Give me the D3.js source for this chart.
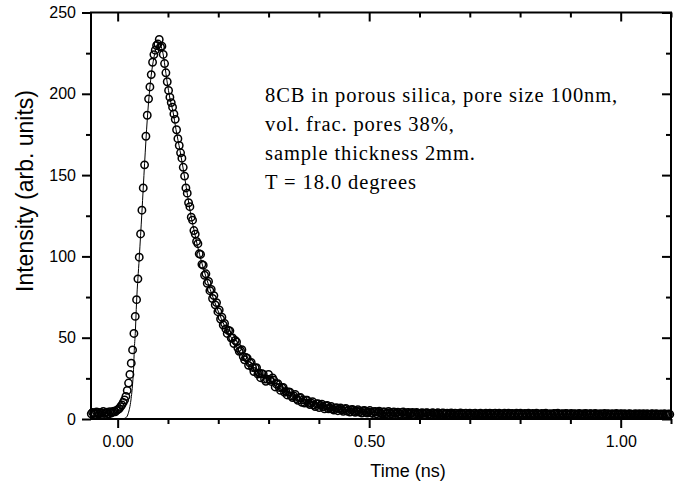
<!DOCTYPE html>
<html>
<head>
<meta charset="utf-8">
<script src="https://cdn.jsdelivr.net/npm/d3@7"></script>
<style>
body { margin: 0; background: #fff; }
svg { display: block; }
.axis line { stroke: #000; stroke-width: 2; }
.axis path { display: none; }
.axis text { font-family: "Liberation Sans", Arial, sans-serif; font-size: 16px; fill: #000; }
</style>
</head>
<body>
<svg width="681" height="489"></svg>
<script>
// time channels of the decay histogram
var startTime = -0.0525;    // ns, first channel
var channelWidth = 0.00265; // ns per channel

// measured intensity, one value per channel (arb. units)
var intensity = [
 3.2, 4.1, 3.6, 2.9, 4.4, 3.8, 3.1, 4.0, 3.5, 4.6,
 3.3, 3.9, 4.2, 3.0, 4.5, 3.7, 4.3, 4.8, 4.4, 5.3,
 5.8, 6.4, 7.6, 8.7, 10.2, 11.7, 13.9, 17.6, 22.1, 27.4,
 34.3, 42.5, 52.6, 63.1, 73.4, 86.2, 99.5, 113.8, 128.4, 142.1,
 156.3, 173.9, 186.8, 196.9, 204.2, 211.8, 219.4, 224.1, 226.8, 229.7,
 230.6, 233.4, 228.7, 229.3, 224.2, 218.6, 212.9, 207.4, 202.1, 197.9,
 194.6, 191.8, 187.6, 184.3, 177.9, 172.4, 168.2, 163.7, 160.4, 154.8,
 149.4, 142.1, 138.9, 133.0, 130.6, 124.1, 122.3, 115.9, 113.7, 109.2,
 107.8, 101.6, 101.2, 95.1, 94.6, 88.4, 89.3, 83.5, 84.6, 78.9,
 79.7, 74.1, 75.9, 70.2, 71.6, 66.0, 67.1, 61.5, 62.6, 57.8,
 58.8, 55.4, 52.6, 54.4, 54.2, 49.8, 49.9, 46.4, 48.3, 47.4,
 43.7, 41.6, 42.1, 42.6, 38.4, 36.4, 37.9, 37.4, 33.0, 34.4,
 34.8, 31.7, 29.2, 31.4, 31.6, 27.6, 28.3, 25.4, 27.9, 27.6,
 24.6, 23.2, 24.5, 27.4, 24.1, 23.1, 25.3, 23.8, 19.7, 21.4,
 21.7, 19.4, 17.6, 19.3, 19.4, 16.4, 17.0, 14.8, 16.7, 16.5,
 14.2, 13.2, 14.2, 15.1, 12.5, 11.5, 13.0, 13.2, 10.3, 11.7,
 9.8, 11.6, 11.5, 9.7, 8.9, 9.8, 10.7, 8.6, 7.7, 9.2,
 9.4, 7.0, 8.4, 9.1, 7.5, 6.2, 8.0, 8.4, 6.2, 6.9,
 7.7, 6.1, 5.5, 6.7, 6.9, 5.1, 6.2, 6.8, 5.6, 4.7,
 6.1, 6.5, 4.8, 5.4, 4.2, 5.7, 5.8, 4.6, 4.1, 4.9,
 5.7, 4.2, 4.7, 3.7, 5.1, 5.2, 4.1, 3.7, 4.4, 5.2,
 3.8, 3.4, 4.5, 4.7, 3.2, 4.2, 4.8, 3.7, 3.0, 4.3,
 4.4, 3.2, 3.5, 4.6, 3.9, 3.0, 4.1, 4.3, 3.3, 3.6,
 4.2, 3.1, 2.9, 4.0, 4.3, 3.4, 3.0, 3.9, 4.1, 3.2,
 3.5, 4.0, 2.8, 3.3, 4.1, 3.6, 2.9, 3.2, 3.9, 3.5,
 2.8, 3.7, 3.9, 3.0, 3.3, 2.7, 3.8, 3.5, 2.9, 3.4,
 3.8, 3.1, 2.6, 3.5, 3.7, 2.9, 3.2, 3.6, 2.7, 3.3,
 3.7, 3.0, 2.8, 3.6, 3.4, 2.6, 3.1, 3.7, 3.2, 2.8,
 3.4, 3.6, 2.7, 3.0, 3.5, 2.9, 2.6, 3.4, 3.6, 3.0,
 2.7, 3.3, 3.6, 3.1, 2.6, 3.2, 3.5, 2.8, 3.0, 3.6,
 3.2, 2.7, 3.4, 3.5, 2.8, 2.9, 3.6, 3.1, 2.6, 3.3,
 3.5, 2.9, 3.0, 3.6, 2.7, 3.2, 3.4, 2.6, 3.1, 3.5,
 2.8, 3.3, 3.5, 2.9, 2.6, 3.4, 3.2, 2.7, 3.5, 3.0,
 2.7, 3.4, 3.1, 2.6, 3.5, 3.3, 2.8, 3.0, 3.4, 2.6,
 3.2, 3.5, 2.9, 2.7, 3.3, 3.0, 2.6, 3.4, 3.2, 2.8,
 3.5, 2.9, 2.7, 3.3, 3.1, 2.6, 3.4, 3.2, 2.7, 3.0,
 3.4, 2.8, 3.1, 3.3, 2.6, 2.9, 3.4, 3.0, 2.7, 3.2,
 2.8, 3.4, 3.0, 2.6, 3.2, 3.3, 2.7, 2.9, 3.4, 2.8,
 3.1, 2.6, 3.3, 3.0, 2.8, 3.4, 2.7, 3.1, 3.2, 2.6,
 3.0, 3.3, 2.7, 2.9, 3.4, 2.8, 2.6, 3.2, 3.1, 2.7,
 3.3, 2.9, 2.6, 3.1, 3.3, 2.8, 3.0, 2.6, 3.2, 3.0,
 2.7, 3.3, 2.9, 2.6, 3.2, 3.0, 2.7, 3.3, 2.8, 2.6,
 3.1, 3.2, 2.7, 2.9, 3.3, 2.6, 2.8, 3.1, 3.0, 2.6,
 3.2, 2.8, 2.7, 3.1, 2.9
];

// fitted curve
var fitTime = [
 -0.053, 0.000, 0.0085, 0.0165, 0.0211, 0.0264, 0.0298, 0.0318, 0.0330, 0.0350,
 0.0376, 0.0429, 0.0482, 0.0535, 0.0588, 0.0641, 0.0694, 0.0747, 0.0800, 0.0827,
 0.0853, 0.0900, 0.0940, 0.0980, 0.1040, 0.1100, 0.1160, 0.1240, 0.1340, 0.1440,
 0.1540, 0.1630, 0.1750, 0.1870, 0.1990, 0.2130, 0.2270, 0.2430, 0.2630, 0.2870,
 0.3130, 0.3420, 0.3720, 0.4020, 0.4420, 0.4820, 0.5410, 0.6200, 0.7200, 0.8600,
 1.0000, 1.1000
];
var fitIntensity = [
 0, 0, 0, 0.8, 3.5, 11.7, 22, 32, 42, 52.7,
 72, 99, 127, 157, 184, 204, 217.5, 226, 231, 231.5,
 230, 225, 217, 208, 197, 189, 178, 165, 147, 128,
 113, 101, 88, 77, 67, 57, 49.5, 41, 33, 26.5,
 21, 15.5, 11.5, 8.5, 6, 4.6, 3.2, 2.2, 1.6, 1.1,
 0.8, 0.6
];

var xMajorTicks = [0, 0.5, 1.0];
var xMinorTicks = [0.1, 0.2, 0.3, 0.4, 0.6, 0.7, 0.8, 0.9, 1.1];
var yMajorTicks = [0, 50, 100, 150, 200, 250];
var yMinorTicks = [25, 75, 125, 175, 225];

var noteLines = [
 "8CB in porous silica, pore size 100nm,",
 "vol. frac. pores 38%,",
 "sample thickness 2mm.",
 "T = 18.0 degrees"
];

var svg = d3.select("svg");
var plotLeft = 91, plotRight = 671, plotTop = 12.5, plotBottom = 419;

var x = d3.scaleLinear().domain([-0.053, 1.1]).range([plotLeft, plotRight]);
var y = d3.scaleLinear().domain([0, 250]).range([plotBottom, plotTop]);

function addAxis(axis, tx, ty) {
	svg.append("g")
	  .attr("class", "axis")
	  .attr("transform", "translate(" + tx + "," + ty + ")")
	  .call(axis);
}

// bottom: labels + outward ticks
addAxis(d3.axisBottom(x).tickValues(xMajorTicks).tickFormat(d3.format(".2f"))
	.tickSize(9).tickSizeOuter(0).tickPadding(8), 0, plotBottom);
addAxis(d3.axisBottom(x).tickValues(xMinorTicks).tickFormat("")
	.tickSize(5).tickSizeOuter(0), 0, plotBottom);
// top: inward ticks
addAxis(d3.axisTop(x).tickValues(xMajorTicks).tickFormat("").tickSize(-9).tickSizeOuter(0), 0, plotTop);
addAxis(d3.axisTop(x).tickValues(xMinorTicks).tickFormat("").tickSize(-5).tickSizeOuter(0), 0, plotTop);
// left
addAxis(d3.axisLeft(y).tickValues(yMajorTicks).tickFormat(d3.format("d"))
	.tickSize(9).tickSizeOuter(0).tickPadding(6), plotLeft, 0);
addAxis(d3.axisLeft(y).tickValues(yMinorTicks).tickFormat("").tickSize(5).tickSizeOuter(0), plotLeft, 0);
// right: inward ticks
addAxis(d3.axisRight(y).tickValues(yMajorTicks).tickFormat("").tickSize(-9).tickSizeOuter(0), plotRight, 0);
addAxis(d3.axisRight(y).tickValues(yMinorTicks).tickFormat("").tickSize(-5).tickSizeOuter(0), plotRight, 0);

// frame
svg.append("rect")
  .attr("x", plotLeft)
  .attr("y", plotTop)
  .attr("width", plotRight - plotLeft)
  .attr("height", plotBottom - plotTop)
  .attr("fill", "none")
  .attr("stroke", "#000")
  .attr("stroke-width", 2);

// data points, open circles
svg.append("g")
  .selectAll("circle")
  .data(intensity)
  .join("circle")
  .attr("cx", function (d, i) { return x(startTime + i * channelWidth); })
  .attr("cy", function (d) { return y(d); })
  .attr("r", 3.7)
  .attr("fill", "none")
  .attr("stroke", "#000")
  .attr("stroke-width", 1.5);

// fit
var fitLine = d3.line()
  .x(function (d, i) { return x(fitTime[i]); })
  .y(function (d) { return y(d); })
  .curve(d3.curveMonotoneX);

svg.append("path")
  .attr("d", fitLine(fitIntensity))
  .attr("fill", "none")
  .attr("stroke", "#000")
  .attr("stroke-width", 1);

// axis titles
svg.append("text")
  .attr("x", 408)
  .attr("y", 477)
  .attr("text-anchor", "middle")
  .style("font-family", "'Liberation Sans', Arial, sans-serif")
  .style("font-size", "18px")
  .text("Time (ns)");

svg.append("text")
  .attr("transform", "translate(33,191) rotate(-90)")
  .attr("text-anchor", "middle")
  .style("font-family", "'Liberation Sans', Arial, sans-serif")
  .style("font-size", "23px")
  .text("Intensity (arb. units)");

// sample note
svg.append("g")
  .selectAll("text")
  .data(noteLines)
  .join("text")
  .attr("x", 265)
  .attr("y", function (d, i) { return 102 + i * 29; })
  .style("font-family", "'Liberation Serif', 'Times New Roman', serif")
  .style("font-size", "20.5px")
  .style("letter-spacing", "0.9px")
  .text(function (d) { return d; });
</script>
</body>
</html>
